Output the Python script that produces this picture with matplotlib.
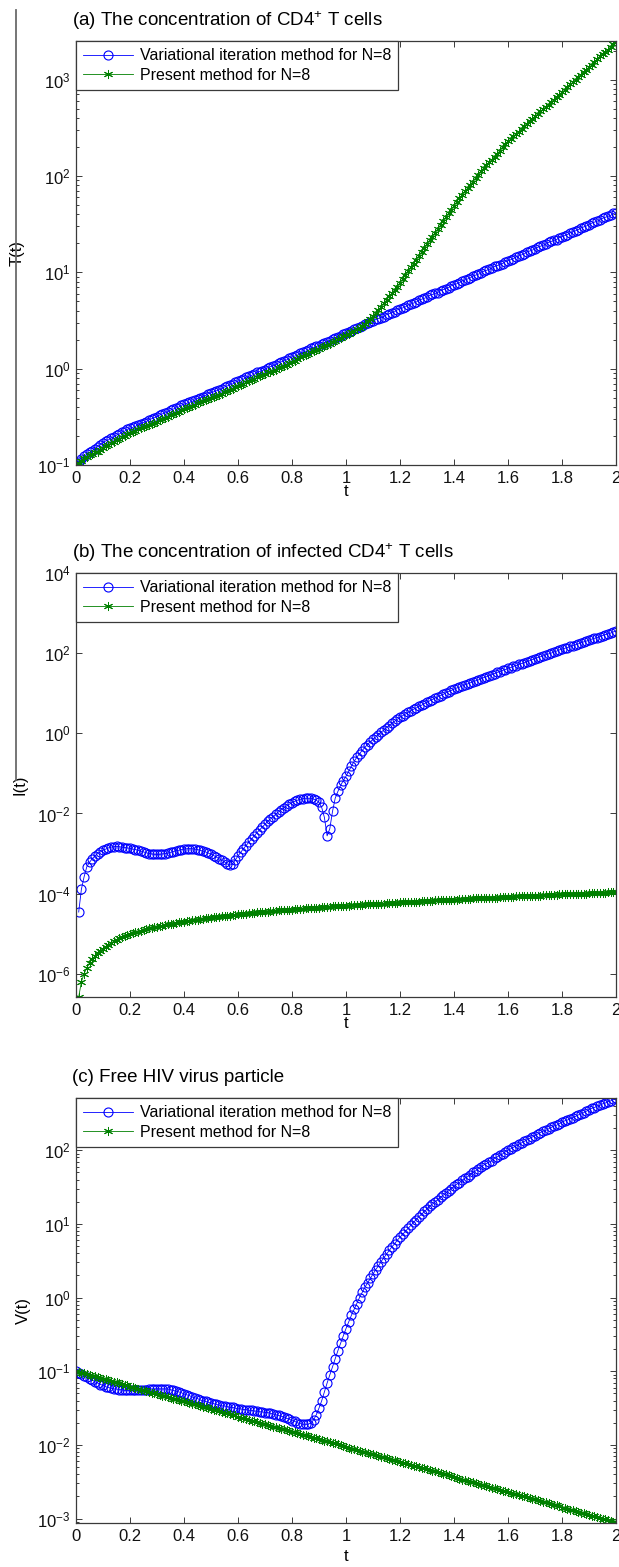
import numpy as np
import matplotlib
matplotlib.use('Agg')
import matplotlib.pyplot as plt
from matplotlib.lines import Line2D
from matplotlib.ticker import (LogLocator, NullLocator, NullFormatter,
                               FixedLocator, FuncFormatter, LogFormatterSciNotation)

plt.rcParams['font.family'] = ['Liberation Sans', 'DejaVu Sans']
plt.rcParams['mathtext.fontset'] = 'custom'
plt.rcParams['mathtext.rm'] = 'Liberation Sans'
plt.rcParams['mathtext.it'] = 'Liberation Sans:italic'
plt.rcParams['mathtext.default'] = 'regular'

# time grid, step 0.01; panel (b) starts at t = 0.01 since I(0) = 0
t = np.round(np.arange(201) / 100, 2)
t_b = t[1:]

# log10 of the solutions, one value per time step
T_vim = [-1.00, -0.97, -0.94, -0.91, -0.89, -0.87, -0.85, -0.83, -0.81, -0.79,
         -0.77, -0.75, -0.74, -0.72, -0.71, -0.69, -0.68, -0.66, -0.65, -0.63,
         -0.62, -0.61, -0.60, -0.58, -0.57, -0.56, -0.55, -0.53, -0.52, -0.51,
         -0.50, -0.48, -0.47, -0.46, -0.45, -0.43, -0.42, -0.41, -0.40, -0.38,
         -0.37, -0.36, -0.35, -0.34, -0.33, -0.31, -0.30, -0.29, -0.28, -0.26,
         -0.25, -0.24, -0.23, -0.22, -0.21, -0.19, -0.18, -0.17, -0.16, -0.14,
         -0.13, -0.12, -0.11, -0.09, -0.08, -0.07, -0.06, -0.04, -0.03, -0.02,
         -0.01, 0.01, 0.02, 0.03, 0.04, 0.06, 0.07, 0.08, 0.09, 0.11,
         0.12, 0.13, 0.14, 0.16, 0.17, 0.18, 0.19, 0.21, 0.22, 0.23,
         0.24, 0.26, 0.27, 0.28, 0.29, 0.31, 0.32, 0.33, 0.34, 0.36,
         0.37, 0.38, 0.39, 0.41, 0.42, 0.43, 0.44, 0.46, 0.47, 0.48,
         0.49, 0.51, 0.52, 0.53, 0.54, 0.56, 0.57, 0.58, 0.59, 0.61,
         0.62, 0.63, 0.64, 0.66, 0.67, 0.68, 0.69, 0.71, 0.72, 0.73,
         0.74, 0.76, 0.77, 0.78, 0.79, 0.81, 0.82, 0.83, 0.84, 0.86,
         0.87, 0.88, 0.89, 0.91, 0.92, 0.93, 0.94, 0.96, 0.97, 0.98,
         0.99, 1.01, 1.02, 1.03, 1.04, 1.06, 1.07, 1.08, 1.09, 1.11,
         1.12, 1.13, 1.14, 1.16, 1.17, 1.18, 1.19, 1.21, 1.22, 1.23,
         1.24, 1.26, 1.27, 1.28, 1.29, 1.31, 1.32, 1.33, 1.34, 1.36,
         1.37, 1.38, 1.39, 1.41, 1.42, 1.43, 1.44, 1.46, 1.47, 1.48,
         1.49, 1.51, 1.52, 1.53, 1.54, 1.56, 1.57, 1.58, 1.59, 1.61,
         1.62]
T_pm = [-1.00, -0.98, -0.96, -0.93, -0.92, -0.90, -0.89, -0.87, -0.86, -0.84,
        -0.82, -0.80, -0.79, -0.77, -0.76, -0.74, -0.73, -0.71, -0.70, -0.68,
        -0.67, -0.66, -0.65, -0.63, -0.62, -0.61, -0.60, -0.58, -0.57, -0.56,
        -0.55, -0.53, -0.52, -0.51, -0.50, -0.48, -0.47, -0.46, -0.45, -0.43,
        -0.42, -0.41, -0.40, -0.39, -0.38, -0.36, -0.35, -0.34, -0.33, -0.31,
        -0.30, -0.29, -0.28, -0.27, -0.26, -0.24, -0.23, -0.22, -0.21, -0.19,
        -0.18, -0.17, -0.16, -0.14, -0.13, -0.12, -0.11, -0.09, -0.08, -0.07,
        -0.06, -0.04, -0.03, -0.02, -0.01, 0.01, 0.02, 0.03, 0.04, 0.06,
        0.07, 0.08, 0.10, 0.12, 0.13, 0.14, 0.15, 0.17, 0.18, 0.19,
        0.20, 0.22, 0.24, 0.25, 0.26, 0.28, 0.29, 0.31, 0.32, 0.34,
        0.35, 0.36, 0.38, 0.39, 0.41, 0.42, 0.44, 0.46, 0.49, 0.52,
        0.55, 0.58, 0.61, 0.64, 0.68, 0.71, 0.75, 0.78, 0.82, 0.85,
        0.89, 0.93, 0.97, 1.01, 1.05, 1.09, 1.13, 1.17, 1.21, 1.25,
        1.29, 1.33, 1.37, 1.41, 1.45, 1.49, 1.53, 1.57, 1.61, 1.65,
        1.69, 1.73, 1.77, 1.80, 1.84, 1.87, 1.91, 1.94, 1.98, 2.01,
        2.05, 2.08, 2.11, 2.14, 2.17, 2.20, 2.23, 2.26, 2.30, 2.33,
        2.36, 2.38, 2.41, 2.44, 2.46, 2.49, 2.52, 2.54, 2.57, 2.59,
        2.62, 2.64, 2.67, 2.69, 2.72, 2.74, 2.77, 2.79, 2.82, 2.84,
        2.87, 2.89, 2.92, 2.95, 2.97, 3.00, 3.03, 3.05, 3.08, 3.10,
        3.13, 3.15, 3.18, 3.21, 3.24, 3.26, 3.29, 3.31, 3.34, 3.37,
        3.40]

I_vim = [-4.46, -3.89, -3.58, -3.33, -3.22, -3.13, -3.06, -3.00, -2.96, -2.92,
         -2.89, -2.86, -2.84, -2.83, -2.82, -2.83, -2.84, -2.85, -2.86, -2.87,
         -2.89, -2.90, -2.92, -2.94, -2.96, -2.98, -3.00, -3.01, -3.02, -3.02,
         -3.02, -3.01, -3.00, -2.99, -2.97, -2.95, -2.93, -2.92, -2.90, -2.89,
         -2.88, -2.88, -2.88, -2.89, -2.90, -2.92, -2.94, -2.96, -2.99, -3.02,
         -3.05, -3.09, -3.13, -3.17, -3.21, -3.26, -3.29, -3.26, -3.16, -3.06,
         -2.97, -2.88, -2.80, -2.72, -2.64, -2.56, -2.48, -2.41, -2.34, -2.27,
         -2.20, -2.14, -2.08, -2.02, -1.96, -1.91, -1.86, -1.81, -1.77, -1.73,
         -1.70, -1.67, -1.65, -1.63, -1.62, -1.62, -1.62, -1.64, -1.67, -1.72,
         -1.85, -2.10, -2.56, -2.38, -1.95, -1.62, -1.45, -1.30, -1.18, -1.07,
         -0.95, -0.82, -0.70, -0.60, -0.51, -0.43, -0.35, -0.28, -0.21, -0.15,
         -0.09, -0.03, 0.03, 0.08, 0.14, 0.19, 0.25, 0.30, 0.35, 0.40,
         0.44, 0.48, 0.52, 0.56, 0.60, 0.63, 0.67, 0.70, 0.74, 0.77,
         0.81, 0.84, 0.88, 0.91, 0.94, 0.97, 1.01, 1.04, 1.07, 1.10,
         1.13, 1.15, 1.18, 1.21, 1.23, 1.26, 1.28, 1.31, 1.33, 1.36,
         1.39, 1.41, 1.44, 1.46, 1.49, 1.52, 1.54, 1.57, 1.59, 1.62,
         1.64, 1.67, 1.69, 1.72, 1.74, 1.76, 1.79, 1.81, 1.84, 1.86,
         1.89, 1.91, 1.93, 1.96, 1.98, 2.00, 2.03, 2.05, 2.08, 2.10,
         2.12, 2.14, 2.17, 2.19, 2.21, 2.23, 2.26, 2.28, 2.30, 2.32,
         2.35, 2.37, 2.39, 2.41, 2.44, 2.46, 2.48, 2.50, 2.53, 2.55]
I_pm = [-6.58, -6.20, -6.00, -5.85, -5.73, -5.64, -5.56, -5.48, -5.42, -5.37,
        -5.32, -5.27, -5.23, -5.19, -5.15, -5.12, -5.09, -5.06, -5.03, -5.01,
        -4.99, -4.97, -4.95, -4.93, -4.91, -4.89, -4.87, -4.86, -4.84, -4.83,
        -4.81, -4.80, -4.78, -4.77, -4.76, -4.75, -4.73, -4.72, -4.71, -4.70,
        -4.69, -4.68, -4.67, -4.66, -4.65, -4.64, -4.63, -4.62, -4.61, -4.60,
        -4.59, -4.59, -4.58, -4.57, -4.56, -4.55, -4.55, -4.54, -4.53, -4.52,
        -4.51, -4.51, -4.50, -4.49, -4.49, -4.48, -4.47, -4.47, -4.46, -4.45,
        -4.45, -4.44, -4.44, -4.43, -4.42, -4.42, -4.41, -4.41, -4.40, -4.40,
        -4.39, -4.39, -4.38, -4.38, -4.37, -4.37, -4.36, -4.36, -4.35, -4.35,
        -4.34, -4.34, -4.33, -4.33, -4.32, -4.32, -4.31, -4.31, -4.30, -4.30,
        -4.30, -4.29, -4.29, -4.29, -4.28, -4.28, -4.27, -4.27, -4.26, -4.26,
        -4.26, -4.26, -4.25, -4.25, -4.24, -4.24, -4.23, -4.23, -4.23, -4.22,
        -4.22, -4.22, -4.21, -4.21, -4.20, -4.20, -4.20, -4.19, -4.19, -4.19,
        -4.18, -4.18, -4.17, -4.17, -4.17, -4.16, -4.16, -4.16, -4.15, -4.15,
        -4.15, -4.14, -4.14, -4.14, -4.13, -4.13, -4.12, -4.12, -4.12, -4.12,
        -4.11, -4.11, -4.11, -4.10, -4.10, -4.10, -4.09, -4.09, -4.09, -4.08,
        -4.08, -4.08, -4.07, -4.07, -4.07, -4.06, -4.06, -4.06, -4.05, -4.05,
        -4.05, -4.05, -4.04, -4.04, -4.04, -4.03, -4.03, -4.03, -4.02, -4.02,
        -4.02, -4.02, -4.01, -4.01, -4.01, -4.00, -4.00, -4.00, -4.00, -3.99,
        -3.99, -3.99, -3.98, -3.98, -3.98, -3.98, -3.97, -3.97, -3.97, -3.97]

V_vim = [-1.00, -1.02, -1.04, -1.06, -1.08, -1.10, -1.12, -1.14, -1.16, -1.18,
         -1.19, -1.21, -1.22, -1.23, -1.24, -1.24, -1.25, -1.25, -1.26, -1.26,
         -1.26, -1.26, -1.26, -1.26, -1.25, -1.25, -1.25, -1.24, -1.24, -1.24,
         -1.24, -1.24, -1.24, -1.24, -1.24, -1.25, -1.26, -1.27, -1.28, -1.29,
         -1.31, -1.32, -1.33, -1.35, -1.36, -1.37, -1.39, -1.40, -1.41, -1.42,
         -1.43, -1.44, -1.45, -1.46, -1.47, -1.47, -1.48, -1.49, -1.49, -1.50,
         -1.51, -1.51, -1.52, -1.52, -1.53, -1.53, -1.54, -1.54, -1.55, -1.55,
         -1.56, -1.56, -1.57, -1.58, -1.59, -1.60, -1.61, -1.62, -1.64, -1.65,
         -1.67, -1.68, -1.70, -1.71, -1.72, -1.72, -1.72, -1.70, -1.66, -1.59,
         -1.50, -1.40, -1.28, -1.16, -1.05, -0.94, -0.83, -0.72, -0.62, -0.52,
         -0.42, -0.33, -0.24, -0.16, -0.08, 0.00, 0.07, 0.14, 0.20, 0.26,
         0.32, 0.38, 0.43, 0.49, 0.54, 0.59, 0.64, 0.69, 0.73, 0.78,
         0.82, 0.86, 0.90, 0.94, 0.98, 1.02, 1.06, 1.10, 1.13, 1.17,
         1.20, 1.24, 1.27, 1.30, 1.33, 1.36, 1.39, 1.42, 1.45, 1.48,
         1.51, 1.54, 1.56, 1.59, 1.62, 1.64, 1.67, 1.70, 1.72, 1.75,
         1.77, 1.80, 1.82, 1.84, 1.86, 1.89, 1.91, 1.93, 1.95, 1.98,
         2.00, 2.02, 2.04, 2.06, 2.08, 2.10, 2.12, 2.14, 2.16, 2.18,
         2.20, 2.22, 2.24, 2.26, 2.27, 2.29, 2.31, 2.33, 2.34, 2.36,
         2.38, 2.40, 2.41, 2.43, 2.44, 2.46, 2.48, 2.49, 2.51, 2.53,
         2.55, 2.57, 2.58, 2.60, 2.61, 2.63, 2.64, 2.66, 2.67, 2.69,
         2.71]
V_pm = [-1.00, -1.01, -1.02, -1.03, -1.04, -1.05, -1.06, -1.07, -1.08, -1.09,
        -1.10, -1.11, -1.12, -1.13, -1.14, -1.15, -1.16, -1.17, -1.18, -1.19,
        -1.21, -1.22, -1.23, -1.24, -1.25, -1.26, -1.27, -1.28, -1.29, -1.30,
        -1.31, -1.32, -1.33, -1.34, -1.35, -1.36, -1.37, -1.38, -1.39, -1.40,
        -1.41, -1.42, -1.43, -1.44, -1.45, -1.46, -1.47, -1.48, -1.49, -1.50,
        -1.51, -1.52, -1.53, -1.54, -1.55, -1.56, -1.57, -1.58, -1.59, -1.60,
        -1.62, -1.63, -1.64, -1.65, -1.66, -1.67, -1.68, -1.69, -1.70, -1.71,
        -1.72, -1.73, -1.74, -1.75, -1.76, -1.77, -1.78, -1.79, -1.80, -1.81,
        -1.82, -1.83, -1.84, -1.85, -1.86, -1.87, -1.88, -1.89, -1.90, -1.91,
        -1.92, -1.93, -1.94, -1.95, -1.96, -1.97, -1.98, -1.99, -2.00, -2.01,
        -2.03, -2.04, -2.05, -2.06, -2.07, -2.08, -2.09, -2.10, -2.11, -2.12,
        -2.13, -2.14, -2.15, -2.16, -2.17, -2.18, -2.19, -2.20, -2.21, -2.22,
        -2.23, -2.24, -2.25, -2.26, -2.27, -2.28, -2.29, -2.30, -2.31, -2.32,
        -2.33, -2.34, -2.35, -2.36, -2.37, -2.38, -2.39, -2.40, -2.41, -2.42,
        -2.44, -2.45, -2.46, -2.47, -2.48, -2.49, -2.50, -2.51, -2.52, -2.53,
        -2.54, -2.55, -2.56, -2.57, -2.58, -2.59, -2.60, -2.61, -2.62, -2.63,
        -2.64, -2.65, -2.66, -2.67, -2.68, -2.69, -2.70, -2.71, -2.72, -2.73,
        -2.74, -2.75, -2.76, -2.77, -2.78, -2.79, -2.80, -2.81, -2.82, -2.83,
        -2.85, -2.86, -2.87, -2.88, -2.89, -2.90, -2.91, -2.92, -2.93, -2.94,
        -2.95, -2.96, -2.97, -2.98, -2.99, -3.00, -3.01, -3.02, -3.03, -3.04,
        -3.06]

titles = ['(a) The concentration of CD4$^{+}$ T cells',
          '(b) The concentration of infected CD4$^{+}$ T cells',
          '(c) Free HIV virus particle']
ylabels = ['T(t)', 'I(t)', 'V(t)']
legend_labels = ['Variational iteration method for N=8', 'Present method for N=8']
xticks = [0, 0.2, 0.4, 0.6, 0.8, 1, 1.2, 1.4, 1.6, 1.8, 2]

W, H = 619, 1567
fig = plt.figure(figsize=(W / 100, H / 100), dpi=100)

# axes boxes in pixels: top, bottom
boxes = [(41, 465), (573, 997), (1098, 1523)]
ylab_x = [-0.096, -0.089, -0.083]
xlab_y = [-0.045, -0.045, -0.062]

panels = [(t, T_vim, T_pm), (t_b, I_vim, I_pm), (t, V_vim, V_pm)]

spine_c = '#3a3a3a'
for k, (tk, yv, yp) in enumerate(panels):
    top, bot = boxes[k]
    ax = fig.add_axes([76 / W, (H - bot) / H, 540 / W, (bot - top) / H])
    yv = 10.0 ** np.array(yv)
    yp = 10.0 ** np.array(yp)
    ax.plot(tk, yv, '-', color='b', lw=0.6, marker='o', ms=6.5, mfc='none',
            mec='b', mew=0.8, label=legend_labels[0])
    ax.plot(tk, yp, '-', color=(0, 0.5, 0), lw=0.6, marker=(6, 2, 0), ms=6.5,
            mew=0.7, label=legend_labels[1])
    ax.set_yscale('log')
    ax.set_xlim(0, 2)
    lo = min(yv.min(), yp.min())
    hi = max(yv.max(), yp.max())
    if k == 1:
        ax.set_ylim(lo, 1e4)
        ax.yaxis.set_major_locator(FixedLocator([1e-6, 1e-4, 1e-2, 1, 1e2, 1e4]))
        ax.yaxis.set_minor_locator(NullLocator())
    else:
        ax.set_ylim(lo, hi)
        ax.yaxis.set_major_locator(LogLocator(base=10, numticks=20))
        ax.yaxis.set_minor_locator(LogLocator(base=10, subs=np.arange(2, 10), numticks=20))
    ax.yaxis.set_major_formatter(LogFormatterSciNotation())
    ax.yaxis.set_minor_formatter(NullFormatter())
    ax.set_xticks(xticks)
    ax.xaxis.set_major_formatter(FuncFormatter(lambda v, p: '%g' % v))

    ax.tick_params(which='both', direction='in', top=True, right=True,
                   color=spine_c, width=0.7, labelsize=12, labelcolor='#111111')
    ax.tick_params(which='major', length=4.5)
    ax.tick_params(which='minor', length=2.2)
    ax.tick_params(axis='x', pad=4)
    ax.tick_params(axis='y', pad=4)
    for s in ax.spines.values():
        s.set_color(spine_c)
        s.set_linewidth(0.9)

    ax.set_ylabel(ylabels[k], fontsize=12)
    ax.yaxis.set_label_coords(ylab_x[k], 0.5)
    ax.set_xlabel('t', fontsize=12)
    ax.xaxis.set_label_coords(0.5, xlab_y[k])

    ax.text(-0.008, 1 + 20 / (bot - top), titles[k], transform=ax.transAxes,
            ha='left', va='center', fontsize=13.5)

    leg = ax.legend(loc='upper left', bbox_to_anchor=(0, 1), borderaxespad=0,
                    fancybox=False, framealpha=1, edgecolor=spine_c, fontsize=11.5,
                    handlelength=3.1, handletextpad=0.45, borderpad=0.45,
                    labelspacing=0.3)
    leg.get_frame().set_linewidth(0.9)

# page rule at the left margin
fig.add_artist(Line2D([16 / W, 16 / W], [1 - 10 / H, 1 - 780 / H],
                      color='#6a6a6a', lw=1.3))

fig.savefig('out.png', dpi=100)
